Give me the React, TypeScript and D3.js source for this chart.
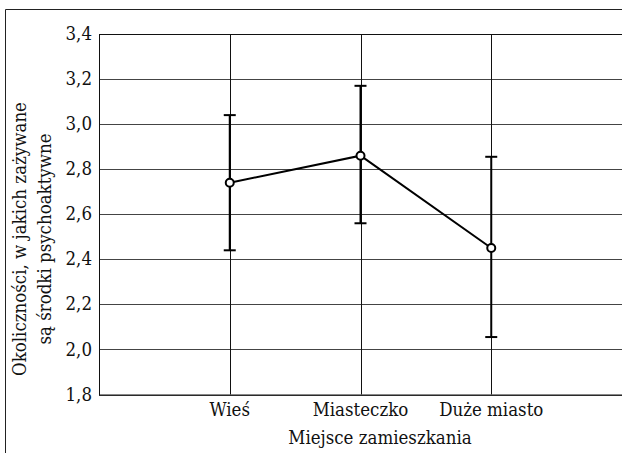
import React from "react";
import * as d3 from "d3";

const categories = ["Wieś", "Miasteczko", "Duże miasto"];
const means = [2.74, 2.86, 2.45];
const upper = [3.04, 3.17, 2.855];
const lower = [2.44, 2.56, 2.055];
const yTicks = [1.8, 2.0, 2.2, 2.4, 2.6, 2.8, 3.0, 3.2, 3.4];
const xTitle = "Miejsce zamieszkania";
const yTitle = ["Okoliczności, w jakich zażywane", "są środki psychoaktywne"];

export default function App() {
  const W = 622, H = 453;
  const left = 99, right = 622, top = 34, bottom = 394.5;
  const x = d3.scaleLinear().domain([0, 4]).range([left, right]);
  const y = d3.scaleLinear().domain([1.8, 3.4]).range([bottom, top]);
  const line = d3.line<number>().x((_, i) => x(i + 1)).y((d) => y(d));
  const font = "DejaVu Serif Condensed, DejaVu Serif, serif";
  const fs = 18.5;
  const cap = 6;
  return (
    <svg width={W} height={H} style={{ position: "absolute", left: 0, top: 0 }}>
      <rect x={0} y={0} width={W} height={H} fill="#fff" />
      <line x1={5.5} x2={W} y1={9.5} y2={9.5} stroke="#222" strokeWidth={1} />
      <line x1={5.5} x2={5.5} y1={9.5} y2={H} stroke="#222" strokeWidth={1} />
      {yTicks.map((t) => (
        <g key={t}>
          <line x1={left} x2={right} y1={Math.round(y(t)) + 0.5} y2={Math.round(y(t)) + 0.5} stroke="#444" strokeWidth={1} />
          <text x={92} y={y(t)} dy="0.33em" textAnchor="end" fontSize={fs} fill="#111" style={{ fontFamily: font }}>
            {d3.format(".1f")(t).replace(".", ",")}
          </text>
        </g>
      ))}
      {[1, 2, 3].map((i) => (
        <line key={i} x1={Math.round(x(i)) + 0.5} x2={Math.round(x(i)) + 0.5} y1={top} y2={bottom} stroke="#111" strokeWidth={1} />
      ))}
      <rect x={left + 0.5} y={top + 0.5} width={right - left} height={bottom - top} fill="none" stroke="#111" strokeWidth={1} />
      {categories.map((c, i) => (
        <g key={c}>
          <line x1={x(i + 1)} x2={x(i + 1)} y1={y(upper[i])} y2={y(lower[i])} stroke="#000" strokeWidth={2} />
          <line x1={x(i + 1) - cap} x2={x(i + 1) + cap} y1={y(upper[i])} y2={y(upper[i])} stroke="#000" strokeWidth={2} />
          <line x1={x(i + 1) - cap} x2={x(i + 1) + cap} y1={y(lower[i])} y2={y(lower[i])} stroke="#000" strokeWidth={2} />
          <text x={x(i + 1)} y={410} dy="0.35em" textAnchor="middle" fontSize={fs} fill="#111" style={{ fontFamily: font }}>{c}</text>
        </g>
      ))}
      <path d={line(means) || ""} fill="none" stroke="#000" strokeWidth={2} />
      {means.map((m, i) => (
        <circle key={i} cx={x(i + 1)} cy={y(m)} r={4} fill="#fff" stroke="#000" strokeWidth={2} />
      ))}
      <text x={380} y={438} dy="0.35em" textAnchor="middle" fontSize={fs} fill="#111" style={{ fontFamily: font }}>{xTitle}</text>
      <g transform="translate(0,239) rotate(-90)">
        <text x={0} y={20} dy="0.35em" textAnchor="middle" fontSize={fs} fill="#111" style={{ fontFamily: font }}>{yTitle[0]}</text>
        <text x={0} y={45} dy="0.35em" textAnchor="middle" fontSize={fs} fill="#111" style={{ fontFamily: font }}>{yTitle[1]}</text>
      </g>
    </svg>
  );
}
